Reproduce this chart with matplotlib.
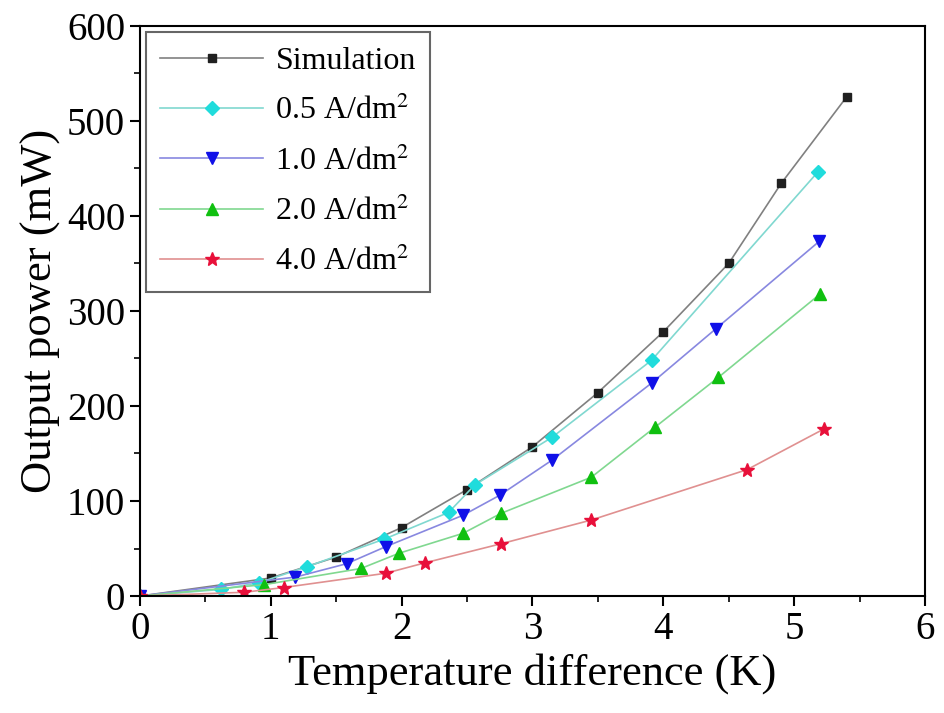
import matplotlib.pyplot as plt

plt.rcParams['font.family'] = ['Liberation Serif', 'DejaVu Serif']
plt.rcParams['mathtext.fontset'] = 'stix'

# simulation
x_sim = [0, 1.0, 1.5, 2.0, 2.5, 3.0, 3.5, 4.0, 4.5, 4.9, 5.4]
y_sim = [0, 19, 41, 72, 112, 157, 214, 278, 350, 434, 525]

# 0.5 A/dm2
x_05 = [0, 0.62, 0.91, 1.28, 1.87, 2.36, 2.56, 3.15, 3.91, 5.18]
y_05 = [0, 7, 14, 31, 60, 88, 117, 167, 248, 446]

# 1.0 A/dm2
x_10 = [0, 1.19, 1.58, 1.88, 2.47, 2.75, 3.15, 3.91, 4.4, 5.19]
y_10 = [0, 20, 34, 52, 85, 106, 143, 224, 281, 373]

# 2.0 A/dm2
x_20 = [0, 0.95, 1.69, 1.98, 2.47, 2.76, 3.45, 3.94, 4.42, 5.2]
y_20 = [0, 12, 29, 45, 66, 87, 125, 178, 230, 318]

# 4.0 A/dm2
x_40 = [0, 0.8, 1.1, 1.88, 2.18, 2.76, 3.45, 4.64, 5.23]
y_40 = [0, 4, 9, 24, 35, 55, 80, 133, 176]

labels = ['Simulation', '0.5 A/dm$^2$', '1.0 A/dm$^2$', '2.0 A/dm$^2$', '4.0 A/dm$^2$']

fig = plt.figure(figsize=(9.44, 7.13), dpi=100)
ax = fig.add_axes([0.148, 0.164, 0.832, 0.80])

ax.plot(x_sim, y_sim, color='#808080', lw=1.2, marker='s', ms=6,
        mfc='#202020', mec='#202020', label=labels[0])
ax.plot(x_05, y_05, color='#80d8d0', lw=1.2, marker='D', ms=7,
        mfc='#20dcdc', mec='#20dcdc', label=labels[1])
ax.plot(x_10, y_10, color='#8888e0', lw=1.2, marker='v', ms=9,
        mfc='#1010e8', mec='#1010e8', label=labels[2])
ax.plot(x_20, y_20, color='#80d890', lw=1.2, marker='^', ms=9,
        mfc='#10c010', mec='#10c010', label=labels[3])
ax.plot(x_40, y_40, color='#e09090', lw=1.2, marker='*', ms=10,
        mfc='#e8103a', mec='#e8103a', label=labels[4])

ax.set_xlim(0, 6)
ax.set_ylim(0, 600)
ax.set_xticks([0, 1, 2, 3, 4, 5, 6])
ax.set_xticks([0.5, 1.5, 2.5, 3.5, 4.5, 5.5], minor=True)
ax.set_yticks([0, 100, 200, 300, 400, 500, 600])
ax.set_yticks([50, 150, 250, 350, 450, 550], minor=True)
ax.tick_params(which='major', direction='out', length=7, width=1.5, labelsize=28)
ax.tick_params(which='minor', direction='out', length=4, width=1.2)
for s in ax.spines.values():
    s.set_linewidth(1.5)

ax.set_xlabel('Temperature difference (K)', fontsize=32, labelpad=4)
ax.set_ylabel('Output power (mW)', fontsize=32)

leg = ax.legend(loc='upper left', fontsize=23, handlelength=3.2,
                handletextpad=0.4, frameon=True, fancybox=False,
                edgecolor='#404040', borderpad=0.45, labelspacing=0.62,
                borderaxespad=0.2)
leg.get_frame().set_linewidth(1.5)

fig.savefig('out.png', dpi=100)
